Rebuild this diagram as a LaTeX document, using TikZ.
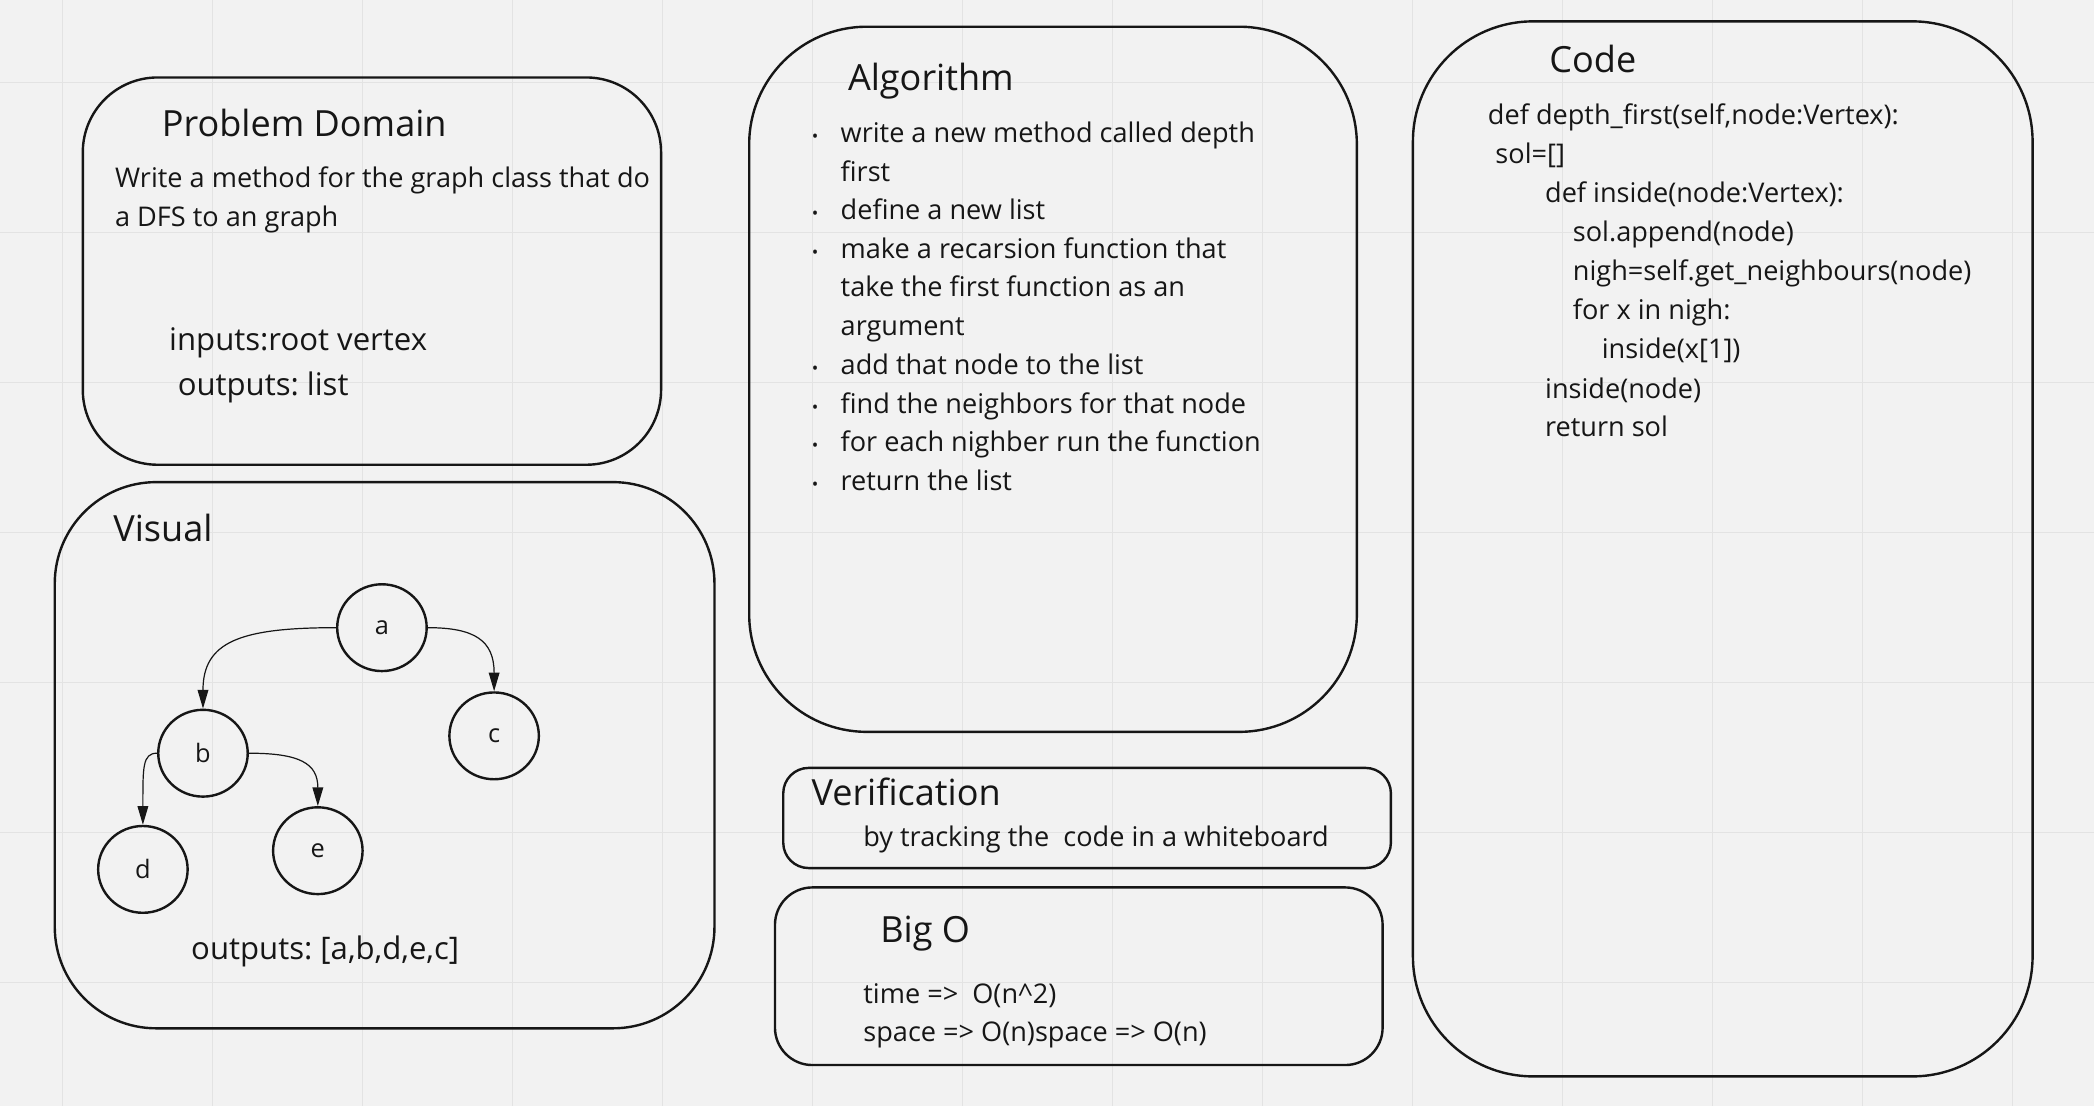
\documentclass[tikz,border=0pt]{standalone}
\usepackage{fontspec}
\setmainfont{Open Sans}
\usetikzlibrary{arrows.meta,shapes.geometric}
\definecolor{bg}{HTML}{F2F2F2}
\definecolor{gridc}{HTML}{E3E3E3}
\definecolor{ink}{HTML}{161616}
\frenchspacing
\tikzset{
  box/.style={draw=ink, line width=1.8pt, inner sep=0pt},
  txt/.style={anchor=base west, inner sep=0pt, text=ink, font=\fontsize{20.3}{25}\selectfont},
  bigtxt/.style={anchor=base west, inner sep=0pt, text=ink, font=\fontsize{23.3}{28}\selectfont},
  head/.style={anchor=base west, inner sep=0pt, text=ink, font=\fontsize{27}{31}\selectfont},
  bul/.style={anchor=base, inner sep=0pt, text=ink, font=\fontsize{13}{15}\selectfont},
  vert/.style={draw=ink, line width=1.8pt, ellipse, minimum width=67pt, minimum height=65pt, inner sep=0pt, text=ink, font=\fontsize{19}{22}\selectfont},
  arr/.style={draw=ink, line width=0.9pt, -{Triangle[length=14pt,width=8pt]}},
}
\begin{document}
\begin{tikzpicture}[x=1pt,y=-1pt]
\useasboundingbox (0,0) rectangle (1568,828);
\fill[bg] (0,0) rectangle (1568,828);
\foreach \k in {0,...,13} {\draw[gridc, line width=1pt] ({47+112.3*\k},0) -- ({47+112.3*\k},828);}
\foreach \k in {0,...,6} {\draw[gridc, line width=1pt] (0,{62+112.3*\k}) -- (1568,{62+112.3*\k});}

% Problem Domain
\node[box, rounded corners=56pt, minimum width=433pt, minimum height=290pt] (pdbox) at (278.5,203) {};
\node[head] (pdt) at (121,102.3) {Problem Domain};
\node[txt] (pd1) at (86,140.5) {Write a method for the graph class that do};
\node[txt] (pd2) at (86,169.4) {a DFS to an graph};
\node[bigtxt] (pd3) at (126.5,262.6) {inputs:root vertex};
\node[bigtxt] (pd4) at (132.9,296.3) {outputs: list};

% Visual
\node[box, rounded corners=76pt, minimum width=494pt, minimum height=409pt] (visbox) at (288,565.5) {};
\node[head] (vist) at (84.7,405.4) {Visual};
\node[vert] (a) at (286,470) {a};
\node[vert] (b) at (152,564) {b};
\node[vert] (c) at (370,551) {c};
\node[vert] (d) at (107,651) {d};
\node[vert] (e) at (238,637) {e};
\draw[arr] (a.west) .. controls +(-72,0) and +(0,-50) .. (b.north);
\draw[arr] (a.east) .. controls +(35,0) and +(0,-38) .. (c.north);
\draw[arr] (b.west) .. controls +(-11,0) and +(0,-43) .. (d.north);
\draw[arr] (b.east) .. controls +(38,0) and +(0,-32) .. (e.north);
\node[bigtxt] (visout) at (143,718.8) {outputs: [a,b,d,e,c]};

% Algorithm
\node[box, rounded corners=88pt, minimum width=455pt, minimum height=528pt] (algbox) at (788.5,284) {};
\node[head] (algt) at (634.8,67.8) {Algorithm};
\node[txt] (al1) at (629.3,106.7) {write a new method called depth};
\node[txt] (al2) at (629.3,135.6) {first};
\node[txt] (al3) at (629.3,164.5) {define a new list};
\node[txt] (al4) at (629.3,193.4) {make a recarsion function that};
\node[txt] (al5) at (629.3,222.3) {take the first function as an};
\node[txt] (al6) at (629.3,251.2) {argument};
\node[txt] (al7) at (629.3,280.6) {add that node to the list};
\node[txt] (al8) at (629.3,309.5) {find the neighbors for that node};
\node[txt] (al9) at (629.3,338.4) {for each nighber run the function};
\node[txt] (al10) at (629.3,367.3) {return the list};
\foreach \yy [count=\i] in {106.7,164.5,193.4,280.6,309.5,338.4,367.3}
  {\node[bul] (bu\i) at (610.4,\yy) {•};}

% Verification
\node[box, rounded corners=19pt, minimum width=455pt, minimum height=75pt] (verbox) at (814,612.5) {};
\node[head] (vert) at (607.5,602.8) {Verification};
\node[txt] (ver1) at (646.3,634) {by tracking the\ \ code in a whiteboard};

% Big O
\node[box, rounded corners=28pt, minimum width=455pt, minimum height=133pt] (bigbox) at (807.8,731) {};
\node[head] (bigt) at (659,705.9) {Big O};
\node[txt] (big1) at (646.3,751.3) {time =>\ \ O(n\textasciicircum 2)};
\node[txt] (big2) at (646.3,780) {space => O(n)space => O(n)};

% Code
\node[box, rounded corners=90pt, minimum width=464pt, minimum height=790pt] (codebox) at (1290,411) {};
\node[head] (codet) at (1160,54.2) {Code};
\node[txt] (c1) at (1114,92.9) {def depth\_first(self,node:Vertex):};
\node[txt] (c2) at (1119.6,122.3) {sol=[]};
\node[txt] (c3) at (1156.8,151.8) {def inside(node:Vertex):};
\node[txt] (c4) at (1177.6,181) {sol.append(node)};
\node[txt] (c5) at (1177.6,209.7) {nigh=self.get\_neighbours(node)};
\node[txt] (c6) at (1177.6,239.1) {for x in nigh:};
\node[txt] (c7) at (1199.2,268.8) {inside(x[1])};
\node[txt] (c8) at (1156.8,298.3) {inside(node)};
\node[txt] (c9) at (1156.8,327) {return sol};
\end{tikzpicture}
\end{document}
